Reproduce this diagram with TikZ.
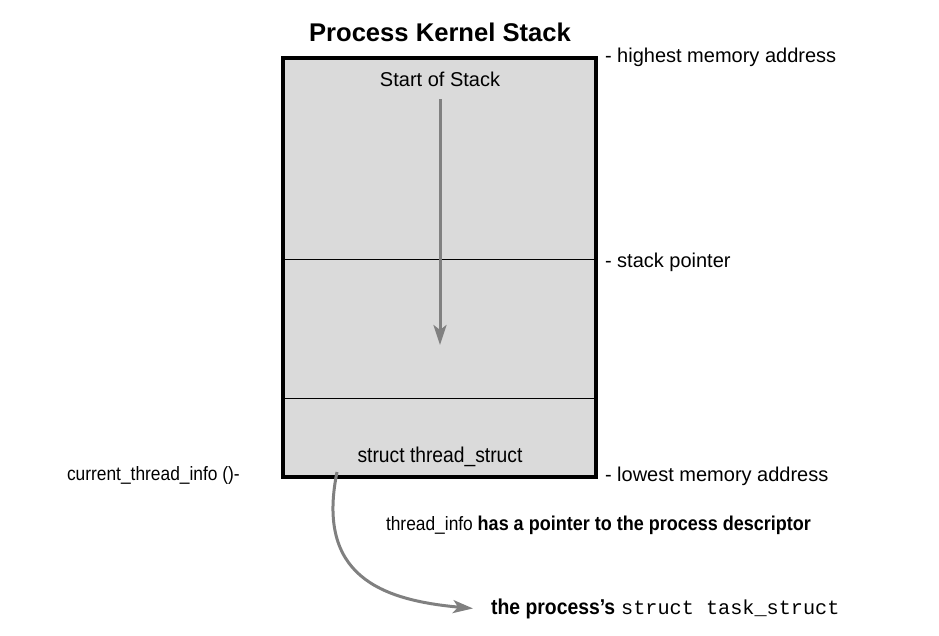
\documentclass[tikz,border=0pt]{standalone}
\usepackage{fontspec}
\setmainfont{Liberation Sans}
\setmonofont{Liberation Mono}
\newfontfamily\condfont[FakeStretch=0.9]{Liberation Sans}
\newfontfamily\boldcond[FakeStretch=0.9]{Liberation Sans Bold}
\usetikzlibrary{arrows.meta}
\definecolor{stackgray}{HTML}{DADADA}
\definecolor{arrowgray}{HTML}{808080}
\tikzset{
  lbl/.style={inner sep=0pt, outer sep=0pt, font=\fontsize{20}{24}\selectfont},
  cond/.style={inner sep=0pt, outer sep=0pt, font=\condfont\fontsize{19.3}{23}\selectfont},
  gray arrow/.style={draw=arrowgray, line width=3pt, -{Stealth[length=20pt,width=13pt,inset=5pt]}},
}
\begin{document}
\begin{tikzpicture}[x=1pt,y=-1pt]
\useasboundingbox (0,0) rectangle (939,636);
% stack box
\node[draw=black, fill=stackgray, line width=4pt, minimum width=313pt, minimum height=419pt, inner sep=0pt, outer sep=0pt] (stack) at (439.5,267.5) {};
\coordinate (spL) at (283,260); \coordinate (spR) at (596,260);
\coordinate (tiL) at (283,398); \coordinate (tiR) at (596,398);
\draw[line width=1pt] (spL) -- (spR);
\draw[line width=1pt] (tiL) -- (tiR);
% title
\node[inner sep=0pt, anchor=base, font=\bfseries\fontsize{25.6}{30}\selectfont] (title) at (440,42) {Process Kernel Stack};
% start of stack and growth arrow
\node[lbl, anchor=base] (start) at (440,87) {Start of Stack};
\coordinate (grow) at (440,345);
\draw[gray arrow] ([yshift=-12pt]start.south) -- (grow);
% right labels
\node[lbl, anchor=base west] (high) at (605,63) {- highest memory address};
\node[lbl, anchor=base west] (sp) at (605,267) {- stack pointer};
\node[lbl, anchor=base west] (low) at (605,481) {- lowest memory address};
% thread_info
\node[cond, anchor=base, font=\condfont\fontsize{21.4}{25}\selectfont] (ts) at (440,462) {struct thread\_struct};
\node[cond, anchor=base west] (cti) at (67,480) {current\_thread\_info ()-};
\node[cond, anchor=base west] (note) at (386,530) {thread\_info {\boldcond\fontsize{20}{24}\selectfont has a pointer to the process descriptor}};
\node[inner sep=0pt, anchor=base west] (task) at (491,614) {{\boldcond\fontsize{21.5}{25}\selectfont the process’s}\hspace{6pt}{\ttfamily\fontsize{20.2}{24}\selectfont struct task\_struct}};
% pointer curve
\coordinate (ptr) at (337,472);
\draw[gray arrow] (ptr) .. controls (316,575) and (380,600) .. ([xshift=-18pt]task.west);
\end{tikzpicture}
\end{document}
